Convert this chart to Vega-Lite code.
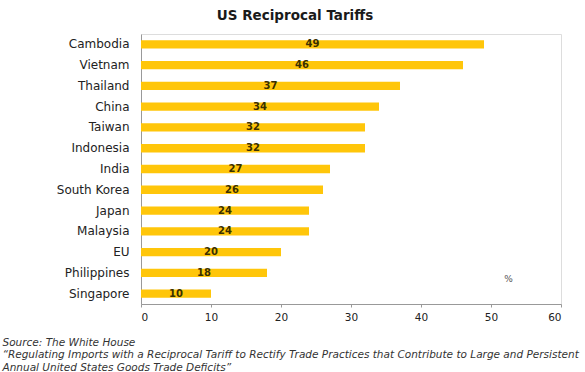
{
  "$schema": "https://vega.github.io/schema/vega-lite/v6.json",
  "width": 420,
  "height": 270,
  "autosize": {"type": "none"},
  "padding": {"left": 141, "top": 34, "right": 24, "bottom": 68},
  "background": "white",
  "title": {
    "text": "US Reciprocal Tariffs",
    "font": "DejaVu Sans",
    "fontSize": 13.5,
    "fontWeight": "bold",
    "color": "#1a1a1a",
    "anchor": "middle",
    "dx": -56,
    "offset": 12
  },
  "data": {
    "values": [
      {"country": "Cambodia", "tariff": 49},
      {"country": "Vietnam", "tariff": 46},
      {"country": "Thailand", "tariff": 37},
      {"country": "China", "tariff": 34},
      {"country": "Taiwan", "tariff": 32},
      {"country": "Indonesia", "tariff": 32},
      {"country": "India", "tariff": 27},
      {"country": "South Korea", "tariff": 26},
      {"country": "Japan", "tariff": 24},
      {"country": "Malaysia", "tariff": 24},
      {"country": "EU", "tariff": 20},
      {"country": "Philippines", "tariff": 18},
      {"country": "Singapore", "tariff": 10}
    ]
  },
  "encoding": {
    "y": {
      "field": "country",
      "type": "nominal",
      "sort": null,
      "scale": {"paddingInner": 0.6, "paddingOuter": 0.3},
      "axis": {
        "title": null,
        "ticks": false,
        "domainColor": "#999999",
        "labelFont": "DejaVu Sans",
        "labelFontSize": 12,
        "labelColor": "#222222",
        "labelPadding": 12
      }
    }
  },
  "resolve": {"scale": {"x": "independent"}},
  "layer": [
    {
      "mark": {"type": "bar", "color": "#FFC60A"},
      "encoding": {
        "x": {
          "field": "tariff",
          "type": "quantitative",
          "scale": {"domain": [0, 60]},
          "axis": {
            "values": [0, 10, 20, 30, 40, 50, 60],
            "grid": false,
            "domainColor": "#999999",
            "tickColor": "#999999",
            "tickSize": 3,
            "labelFont": "DejaVu Sans",
            "labelFontSize": 10.5,
            "labelColor": "#222222",
            "labelPadding": 5,
            "title": [
              "Source: The White House",
              "\u201cRegulating Imports with a Reciprocal Tariff to Rectify Trade Practices that Contribute to Large and Persistent",
              "Annual United States Goods Trade Deficits\u201d"
            ],
            "titleFont": "DejaVu Sans",
            "titleFontSize": 10.5,
            "titleFontStyle": "italic",
            "titleFontWeight": "normal",
            "titleColor": "#333333",
            "titleAnchor": "start",
            "titleAlign": "left",
            "titleBaseline": "top",
            "titleX": -139,
            "titleY": 33,
            "titleLineHeight": 12.8
          }
        }
      }
    },
    {
      "mark": {"type": "text", "font": "DejaVu Sans", "fontSize": 10, "fontWeight": "bold", "color": "#3a3000"},
      "encoding": {
        "x": {"field": "tariff", "type": "quantitative", "scale": {"domain": [0, 120]}, "axis": null},
        "text": {"field": "tariff", "type": "quantitative"}
      }
    },
    {
      "data": {"values": [{"label": "%"}]},
      "mark": {"type": "text", "font": "DejaVu Sans", "fontSize": 9, "color": "#555555", "dy": 6},
      "encoding": {
        "x": {"datum": 52.5, "type": "quantitative", "scale": {"domain": [0, 60]}, "axis": null},
        "y": {"datum": "Philippines", "type": "nominal"},
        "text": {"field": "label"}
      }
    }
  ]
}
